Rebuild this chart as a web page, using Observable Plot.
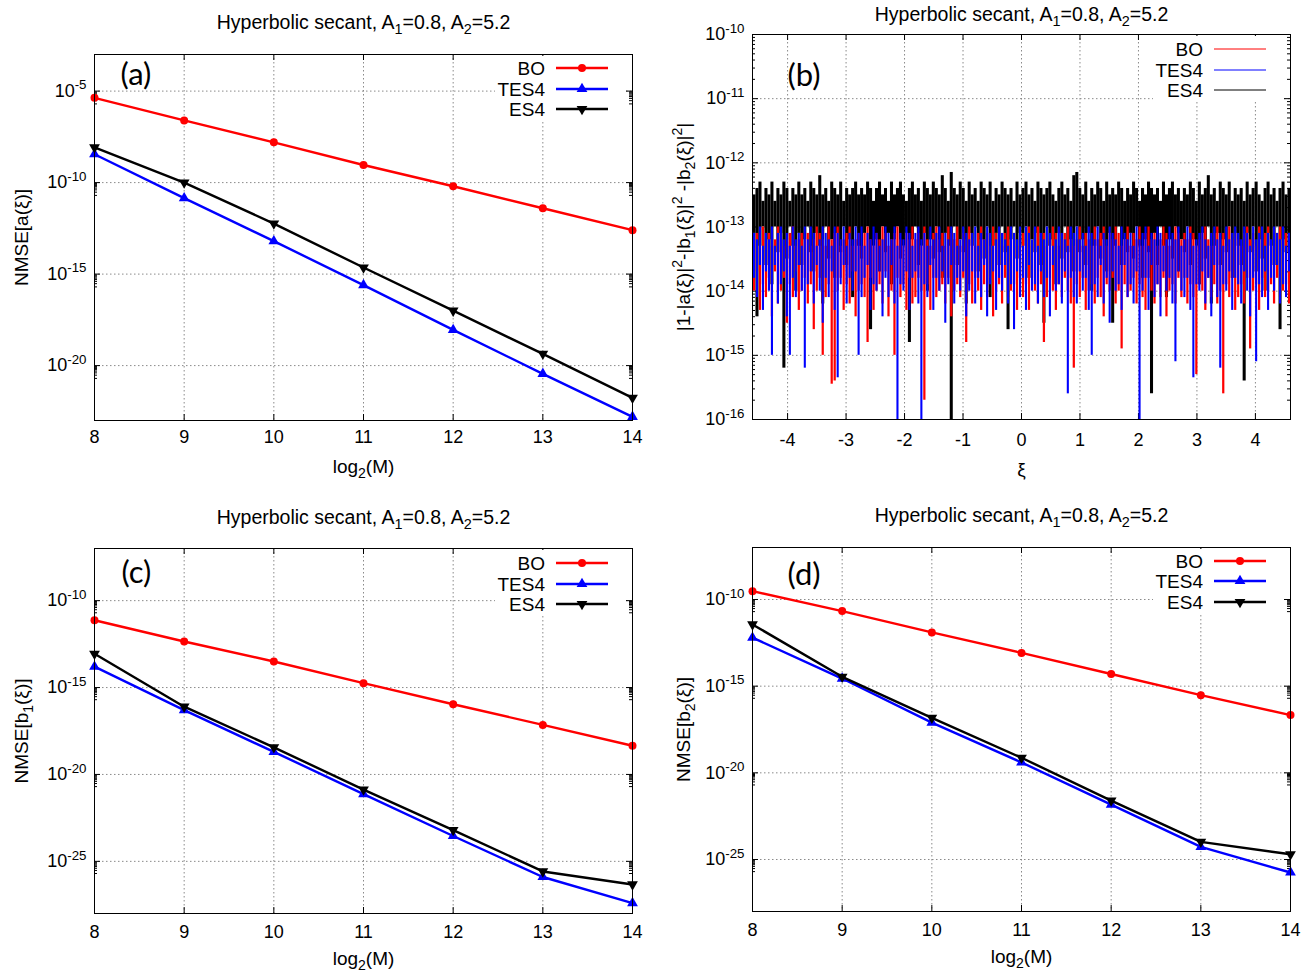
<!DOCTYPE html>
<html>
<head>
<meta charset="utf-8">
<script src="https://cdn.jsdelivr.net/npm/d3@7"></script>
<script src="https://cdn.jsdelivr.net/npm/@observablehq/plot@0.6"></script>
<style>
  html, body { margin: 0; padding: 0; background: #fff; }
  #wrap { position: relative; width: 1302px; height: 973px; background: #fff; overflow: hidden; }
  #wrap svg { position: absolute; }
</style>
</head>
<body>
<div id="wrap"></div>
<script>
// ---------------- DATA ----------------
const log2M = [8, 9, 10, 11, 12, 13, 14];
const seriesNames = ["BO", "TES4", "ES4"];
const seriesColors = ["#ff0000", "#0000ff", "#000000"];
const panelTitle = "Hyperbolic secant, A_{1}=0.8, A_{2}=5.2";

// (a) NMSE[a(xi)], log10 values
const aBO   = [-5.37, -6.6, -7.8, -9.04, -10.2, -11.4, -12.6];
const aTES4 = [-8.45, -10.85, -13.2, -15.6, -18.05, -20.45, -22.8];
const aES4  = [-8.08, -10.0, -12.24, -14.64, -17.0, -19.36, -21.76];

// (c) NMSE[b1(xi)], log10 values
const cBO   = [-11.13, -12.35, -13.5, -14.75, -15.96, -17.15, -18.35];
const cTES4 = [-13.8, -16.3, -18.7, -21.13, -23.54, -25.9, -27.4];
const cES4  = [-13.06, -16.1, -18.44, -20.87, -23.2, -25.58, -26.33];

// (d) NMSE[b2(xi)], log10 values
const dBO   = [-9.52, -10.67, -11.9, -13.08, -14.3, -15.52, -16.67];
const dTES4 = [-12.2, -14.56, -17.1, -19.4, -21.83, -24.27, -25.75];
const dES4  = [-11.44, -14.46, -16.83, -19.13, -21.6, -23.98, -24.7];

const yTicksA  = [1e-5, 1e-10, 1e-15, 1e-20];
const yTicksCD = [1e-10, 1e-15, 1e-20, 1e-25];

// (b) |1-|a|^2-|b1|^2-|b2|^2| versus xi: the dense curve read as its
// upper / lower envelope (log10) in 180 equal xi-bins over xiDomain
const xiDomain = [-4.6, 4.6];
const xiTicks = [-4, -3, -2, -1, 0, 1, 2, 3, 4];
const yTicksB = [1e-10, 1e-11, 1e-12, 1e-13, 1e-14, 1e-15, 1e-16];

const bES4Hi = [
  -12.5,-12.4,-12.3,-12.6,-12.4,-12.5,-12.3,-12.6,-12.4,-12.5,-12.3,-12.4,-12.6,-12.4,-12.5,-12.3,-12.5,-12.4,
  -12.6,-12.3,-12.4,-12.5,-12.2,-12.5,-12.4,-12.6,-12.3,-12.4,-12.5,-12.3,-12.6,-12.4,-12.5,-12.4,-12.3,-12.5,
  -12.4,-12.5,-12.3,-12.4,-12.6,-12.4,-12.3,-12.5,-12.4,-12.6,-12.3,-12.5,-12.4,-12.3,-12.5,-12.6,-12.4,-12.3,
  -12.5,-12.4,-12.6,-12.3,-12.4,-12.5,-12.3,-12.4,-12.5,-12.2,-12.4,-12.6,-12.15,-12.4,-12.5,-12.3,-12.4,-12.6,
  -12.3,-12.5,-12.4,-12.6,-12.3,-12.4,-12.5,-12.3,-12.6,-12.4,-12.5,-12.3,-12.4,-12.5,-12.4,-12.6,-12.3,-12.5,
  -12.4,-12.3,-12.5,-12.4,-12.6,-12.3,-12.4,-12.5,-12.4,-12.3,-12.5,-12.6,-12.4,-12.3,-12.5,-12.4,-12.6,-12.2,
  -12.15,-12.4,-12.5,-12.3,-12.6,-12.4,-12.5,-12.3,-12.4,-12.6,-12.3,-12.5,-12.4,-12.5,-12.3,-12.4,-12.6,-12.4,
  -12.5,-12.3,-12.4,-12.6,-12.4,-12.5,-12.3,-12.4,-12.5,-12.4,-12.6,-12.3,-12.5,-12.4,-12.3,-12.5,-12.4,-12.6,
  -12.4,-12.5,-12.3,-12.4,-12.6,-12.3,-12.5,-12.4,-12.2,-12.5,-12.4,-12.6,-12.3,-12.4,-12.5,-12.3,-12.6,-12.4,
  -12.5,-12.4,-12.6,-12.3,-12.5,-12.4,-12.3,-12.5,-12.6,-12.4,-12.3,-12.5,-12.4,-12.6,-12.4,-12.3,-12.5,-12.4
];
const bES4Lo = [
  -13.1,-14.4,-13.3,-13.0,-13.6,-13.2,-13.9,-13.0,-13.4,-13.1,-15.2,-13.5,-13.0,-13.3,-14.0,-13.1,-13.6,-13.2,
  -13.0,-13.4,-13.7,-13.1,-13.3,-14.2,-13.0,-13.5,-13.2,-13.8,-13.1,-13.4,-13.0,-13.6,-13.2,-14.1,-13.0,-13.3,
  -13.5,-13.1,-13.0,-14.6,-13.3,-13.2,-13.7,-13.0,-13.4,-13.1,-13.9,-13.2,-13.0,-13.5,-13.3,-13.1,-14.8,-13.2,
  -13.0,-13.6,-13.3,-13.1,-14.0,-13.2,-13.5,-13.0,-13.4,-13.8,-13.1,-13.3,-16.0,-13.0,-13.6,-13.2,-13.4,-14.2,
  -13.1,-13.3,-13.0,-13.7,-13.2,-13.5,-13.0,-14.1,-13.3,-13.1,-13.6,-13.0,-13.4,-14.6,-13.2,-13.0,-13.5,-13.1,
  -13.3,-13.0,-13.8,-13.2,-13.4,-13.1,-13.6,-14.5,-13.0,-13.3,-13.2,-13.9,-13.1,-13.5,-13.0,-13.4,-13.2,-13.7,
  -13.0,-13.4,-13.2,-13.6,-13.1,-14.0,-13.3,-13.0,-13.5,-13.2,-13.7,-13.1,-14.5,-13.3,-13.0,-13.6,-13.2,-13.4,
  -13.1,-13.5,-13.0,-13.3,-13.8,-13.2,-13.4,-15.6,-13.1,-13.6,-13.0,-13.3,-14.1,-13.2,-13.5,-13.0,-13.7,-13.2,
  -13.4,-13.0,-13.6,-13.2,-13.3,-13.9,-13.1,-13.5,-13.0,-14.2,-13.3,-13.1,-13.6,-13.2,-13.4,-13.0,-13.8,-13.1,
  -13.3,-13.6,-15.4,-13.1,-13.4,-13.0,-13.7,-13.2,-13.5,-14.0,-13.1,-13.3,-13.6,-13.0,-14.6,-13.2,-13.4,-13.1
];
const bTES4Hi = [
  -13.1,-13.2,-13.0,-13.3,-13.1,-13.2,-13.0,-13.3,-13.1,-13.0,-13.2,-13.1,-13.3,-13.0,-13.2,-13.1,-13.3,-13.0,
  -13.2,-13.0,-13.1,-13.3,-13.2,-13.0,-13.1,-13.2,-13.3,-13.0,-13.1,-13.2,-13.0,-13.3,-13.1,-13.2,-13.0,-13.1,
  -13.0,-13.3,-13.1,-13.2,-13.0,-13.1,-13.3,-13.2,-13.0,-13.1,-13.2,-13.0,-13.3,-13.1,-13.2,-13.0,-13.1,-13.3,
  -13.1,-13.0,-13.2,-13.1,-13.3,-13.0,-13.2,-13.1,-13.0,-13.3,-13.1,-13.2,-13.0,-13.1,-13.3,-13.2,-13.0,-13.1,
  -13.2,-13.1,-13.0,-13.3,-13.1,-13.2,-13.0,-13.1,-13.3,-13.2,-13.0,-13.1,-13.2,-13.3,-13.0,-13.1,-13.2,-13.0,
  -13.3,-13.0,-13.1,-13.2,-13.0,-13.3,-13.1,-13.2,-13.0,-13.1,-13.3,-13.2,-13.0,-13.1,-13.2,-13.3,-13.0,-13.1,
  -13.0,-13.2,-13.1,-13.3,-13.0,-13.1,-13.2,-13.0,-13.3,-13.1,-13.2,-13.0,-13.1,-13.2,-13.3,-13.0,-13.1,-13.2,
  -13.1,-13.3,-13.0,-13.2,-13.1,-13.0,-13.3,-13.1,-13.2,-13.0,-13.1,-13.3,-13.2,-13.0,-13.1,-13.2,-13.0,-13.3,
  -13.2,-13.0,-13.1,-13.3,-13.2,-13.1,-13.0,-13.2,-13.3,-13.1,-13.0,-13.2,-13.1,-13.3,-13.0,-13.2,-13.1,-13.0,
  -13.1,-13.2,-13.0,-13.1,-13.3,-13.0,-13.2,-13.1,-13.0,-13.3,-13.1,-13.2,-13.0,-13.1,-13.2,-13.0,-13.3,-13.1
];
const bTES4Lo = [
  -13.8,-14.1,-13.6,-14.3,-13.7,-14.0,-15.0,-13.6,-14.2,-13.9,-13.7,-14.4,-15.0,-13.8,-14.1,-13.6,-14.0,-15.2,
  -13.9,-13.7,-14.2,-13.6,-14.0,-14.5,-13.8,-14.1,-13.7,-14.3,-15.35,-13.9,-13.6,-14.2,-13.8,-14.0,-13.7,-15.0,
  -14.1,-13.8,-13.6,-14.3,-13.9,-14.0,-13.7,-14.4,-13.8,-14.1,-13.6,-14.2,-16.0,-13.9,-14.0,-13.7,-14.3,-13.8,
  -13.7,-14.2,-16.0,-13.9,-14.1,-13.6,-14.3,-13.8,-14.0,-13.7,-14.5,-13.9,-13.6,-14.2,-13.8,-14.0,-13.7,-14.4,
  -14.0,-13.7,-14.2,-13.8,-14.1,-13.6,-14.4,-13.9,-13.7,-14.3,-13.8,-14.0,-13.6,-14.2,-13.9,-14.6,-13.7,-14.1,
  -13.8,-14.3,-13.6,-14.0,-13.9,-14.2,-13.7,-14.1,-13.8,-14.4,-13.6,-14.0,-13.9,-14.2,-13.7,-15.6,-13.8,-14.1,
  -14.2,-13.7,-14.0,-13.8,-14.3,-15.0,-13.9,-14.1,-13.6,-14.2,-13.8,-14.5,-13.7,-14.0,-13.9,-14.3,-13.6,-14.1,
  -13.9,-14.2,-13.7,-16.0,-14.0,-13.8,-14.3,-13.6,-14.1,-13.9,-14.4,-13.7,-14.0,-13.8,-14.2,-15.1,-13.7,-14.0,
  -14.1,-13.8,-14.3,-15.35,-13.9,-14.0,-13.7,-14.2,-13.8,-14.4,-13.6,-14.1,-15.2,-13.9,-14.0,-13.7,-14.3,-13.8,
  -13.9,-14.2,-13.7,-14.0,-14.4,-13.8,-15.1,-13.9,-14.1,-13.7,-14.3,-13.8,-14.0,-13.6,-14.2,-13.9,-14.1,-13.7
];
const bBOHi = [
  -13.2,-13.1,-13.3,-13.0,-13.2,-13.1,-13.3,-13.2,-13.0,-13.1,-13.3,-13.2,-13.1,-13.0,-13.3,-13.2,-13.1,-13.2,
  -13.1,-13.3,-13.2,-13.0,-13.1,-13.2,-13.3,-13.0,-13.2,-13.1,-13.0,-13.3,-13.2,-13.1,-13.0,-13.3,-13.2,-13.1,
  -13.3,-13.1,-13.0,-13.2,-13.3,-13.1,-13.2,-13.0,-13.1,-13.3,-13.2,-13.1,-13.0,-13.2,-13.3,-13.1,-13.2,-13.0,
  -13.2,-13.1,-13.3,-13.0,-13.2,-13.3,-13.1,-13.0,-13.2,-13.1,-13.3,-13.0,-13.1,-13.2,-13.0,-13.3,-13.1,-13.2,
  -13.0,-13.2,-13.3,-13.1,-13.0,-13.2,-13.1,-13.3,-13.0,-13.1,-13.2,-13.3,-13.1,-13.0,-13.2,-13.1,-13.3,-13.2,
  -13.1,-13.2,-13.0,-13.3,-13.1,-13.0,-13.2,-13.1,-13.3,-13.2,-13.0,-13.1,-13.3,-13.2,-13.1,-13.0,-13.2,-13.3,
  -13.2,-13.0,-13.3,-13.1,-13.2,-13.3,-13.0,-13.2,-13.1,-13.0,-13.3,-13.1,-13.2,-13.0,-13.1,-13.3,-13.2,-13.0,
  -13.3,-13.1,-13.2,-13.0,-13.3,-13.1,-13.0,-13.2,-13.1,-13.3,-13.2,-13.0,-13.1,-13.3,-13.2,-13.0,-13.1,-13.2,
  -13.1,-13.2,-13.0,-13.1,-13.3,-13.2,-13.1,-13.0,-13.2,-13.3,-13.1,-13.0,-13.2,-13.1,-13.3,-13.0,-13.2,-13.1,
  -13.2,-13.3,-13.1,-13.0,-13.2,-13.1,-13.3,-13.0,-13.2,-13.1,-13.0,-13.3,-13.2,-13.1,-13.0,-13.2,-13.1,-13.3
];
const bBOLo = [
  -14.0,-13.7,-14.3,-13.9,-14.1,-13.8,-14.4,-13.7,-14.2,-14.0,-13.8,-14.5,-13.9,-14.1,-13.7,-14.3,-14.0,-13.8,
  -14.2,-13.9,-14.6,-14.0,-13.8,-15.0,-14.1,-13.9,-15.45,-15.4,-14.0,-13.8,-14.3,-13.9,-14.2,-13.7,-14.4,-14.0,
  -13.9,-14.1,-14.8,-13.8,-14.3,-14.0,-13.9,-14.2,-13.7,-14.4,-14.0,-15.0,-13.8,-14.1,-13.9,-14.3,-13.8,-14.2,
  -14.1,-13.8,-14.0,-15.7,-13.9,-14.3,-13.8,-14.1,-14.0,-13.9,-14.2,-13.8,-14.4,-14.0,-13.9,-14.1,-13.8,-14.8,
  -13.9,-14.2,-13.8,-14.0,-14.3,-13.9,-14.1,-13.8,-14.4,-14.0,-13.9,-14.2,-13.8,-14.1,-14.0,-13.9,-14.3,-13.8,
  -14.1,-13.9,-14.3,-13.8,-14.0,-14.2,-13.9,-14.8,-14.1,-13.8,-14.0,-14.3,-13.9,-14.1,-13.8,-14.0,-14.2,-15.2,
  -13.9,-14.1,-13.8,-14.3,-14.0,-13.9,-14.2,-13.8,-14.1,-14.4,-13.9,-14.0,-13.8,-14.2,-14.0,-14.9,-13.9,-14.1,
  -14.0,-13.8,-14.2,-13.9,-14.1,-14.3,-13.8,-14.0,-14.2,-13.9,-14.1,-13.8,-14.4,-14.0,-13.9,-14.2,-13.8,-14.1,
  -13.8,-14.2,-13.9,-14.1,-15.3,-13.9,-14.0,-14.3,-13.8,-14.1,-13.9,-14.2,-14.0,-15.6,-13.9,-14.1,-13.8,-14.3,
  -14.1,-13.9,-14.2,-13.8,-14.9,-14.0,-13.9,-14.3,-13.8,-14.1,-14.0,-13.9,-14.2,-13.8,-14.1,-14.0,-13.9,-14.2
];

// ---------------- HELPERS ----------------
const FONT = "'Liberation Sans', Arial, Helvetica, sans-serif";
const TAGFONT = "Lato, 'Open Sans', sans-serif";
const GRID = {stroke: "#8a8a8a", strokeOpacity: 1, strokeDasharray: "1.5,2.5", strokeWidth: 1};
const pow10Label = d => "10^{" + Math.round(Math.log10(d)) + "}";
const TICKFONT = 18;
const LABELFONT = 19;
const TITLEFONT = 19.5;

function minorTicks(majors, domain, perDecadeAll) {
  const lo = Math.min(...domain), hi = Math.max(...domain);
  const out = [];
  const exps = perDecadeAll
    ? d3.range(Math.round(Math.log10(lo)), Math.round(Math.log10(hi)))
    : majors.map(t => Math.round(Math.log10(t)) - 1);
  for (const e of exps) for (let m = 2; m <= 9; m++) {
    const v = m * Math.pow(10, e);
    if (v > lo && v < hi) out.push(v);
  }
  return out;
}

function richify(svg) {
  d3.select(svg).selectAll("text").each(function () {
    const t = this.textContent;
    if (!/[_^]\{/.test(t)) return;
    const parts = [];
    const re = /([_^])\{([^}]*)\}/g;
    let last = 0, m;
    while ((m = re.exec(t))) {
      if (m.index > last) parts.push({s: t.slice(last, m.index)});
      parts.push({s: m[2], k: m[1]});
      last = re.lastIndex;
    }
    if (last < t.length) parts.push({s: t.slice(last)});
    while (this.firstChild) this.removeChild(this.firstChild);
    let shift = 0;
    for (const p of parts) {
      const ts = document.createElementNS("http://www.w3.org/2000/svg", "tspan");
      ts.textContent = p.s;
      const size = p.k ? 0.74 : 1;
      const target = p.k === "^" ? -0.42 : p.k === "_" ? 0.26 : 0;
      if (p.k) ts.setAttribute("font-size", "74%");
      const d = target - shift;
      if (Math.abs(d) > 1e-9) ts.setAttribute("dy", (d / size).toFixed(3) + "em");
      shift = target;
      this.appendChild(ts);
    }
  });
}

function addLegend(svg, {right, top, rowDy, markers, lineWidth}) {
  const g = d3.select(svg).append("g")
    .attr("font-family", FONT).attr("font-size", LABELFONT).attr("fill", "#000");
  g.append("rect")
    .attr("x", right - 137).attr("y", top + 2)
    .attr("width", 131).attr("height", rowDy[2] + 10)
    .attr("fill", "#fff");
  seriesNames.forEach((name, i) => {
    const y = top + rowDy[i];
    g.append("text").attr("x", right - 87).attr("y", y).attr("dy", "0.36em")
      .attr("text-anchor", "end").text(name);
    g.append("line").attr("x1", right - 76).attr("x2", right - 24)
      .attr("y1", y).attr("y2", y)
      .attr("stroke", seriesColors[i]).attr("stroke-width", lineWidth);
    if (markers) {
      const type = i === 0 ? d3.symbolCircle : d3.symbolTriangle;
      const rot = i === 2 ? " rotate(180)" : "";
      g.append("path")
        .attr("transform", `translate(${right - 50},${y})${rot}`)
        .attr("d", d3.symbol(type, Math.PI * 4 * 4)())
        .attr("fill", seriesColors[i]);
    }
  });
}

function place(svg, left, top) {
  svg.style.left = left + "px";
  svg.style.top = top + "px";
  document.getElementById("wrap").appendChild(svg);
}

function labelMarks(cfg) {
  return [
    Plot.text([panelTitle], {text: d => d, frameAnchor: "top", dy: cfg.titleDy, fontSize: TITLEFONT, textAnchor: "middle", lineAnchor: "middle"}),
    Plot.text([cfg.xLabel], {text: d => d, frameAnchor: "bottom", dy: cfg.xLabelDy, fontSize: LABELFONT, textAnchor: "middle", lineAnchor: "middle"}),
    Plot.text([cfg.yLabel], {text: d => d, frameAnchor: "left", dx: cfg.yLabelDx, rotate: -90, fontSize: LABELFONT, textAnchor: "middle", lineAnchor: "middle"}),
    Plot.text([cfg.tag], {text: d => d, frameAnchor: "top-left", dx: cfg.tagDx, dy: cfg.tagDy, textAnchor: "start", lineAnchor: "middle", fontSize: 31, fontFamily: TAGFONT})
  ];
}

function nmsePanel(cfg) {
  const {box, m, yDomain, yTicks, vals} = cfg;
  const fw = box.w - m.l - m.r, fh = box.h - m.t - m.b;
  const rows = vals.map((arr, k) => arr.map((v, i) => ({x: log2M[i], y: Math.pow(10, v), s: seriesNames[k]})));
  const yMinor = minorTicks(yTicks, yDomain, false);
  const marks = [
    Plot.gridX(log2M.slice(1, -1), GRID),
    Plot.gridY(yTicks, GRID),
    Plot.tickX(log2M, {x: d => d, insetTop: fh - 6, stroke: "#000"}),
    Plot.tickX(log2M, {x: d => d, insetBottom: fh - 6, stroke: "#000"}),
    Plot.tickY(yTicks, {y: d => d, insetRight: fw - 6, stroke: "#000"}),
    Plot.tickY(yTicks, {y: d => d, insetLeft: fw - 6, stroke: "#000"}),
    Plot.tickY(yMinor, {y: d => d, insetRight: fw - 3, stroke: "#000"}),
    Plot.tickY(yMinor, {y: d => d, insetLeft: fw - 3, stroke: "#000"}),
    Plot.axisX(log2M, {tickSize: 0, tickPadding: cfg.xPad, fontSize: TICKFONT, label: null}),
    Plot.axisY(yTicks, {tickSize: 0, tickPadding: 8, fontSize: TICKFONT, tickFormat: pow10Label, label: null}),
  ];
  rows.forEach((r, k) => {
    marks.push(Plot.line(r, {x: "x", y: "y", stroke: seriesColors[k], strokeWidth: 2.4}));
    marks.push(Plot.dot(r, {
      x: "x", y: "y", fill: seriesColors[k], stroke: "none", r: 4,
      symbol: k === 0 ? "circle" : "triangle", rotate: k === 2 ? 180 : 0
    }));
  });
  marks.push(Plot.frame({stroke: "#000", strokeWidth: 1}), ...labelMarks(cfg));
  const svg = Plot.plot({
    width: box.w, height: box.h,
    marginLeft: m.l, marginRight: m.r, marginTop: m.t, marginBottom: m.b,
    style: {fontFamily: FONT, fontSize: TICKFONT + "px", color: "#000", background: "transparent"},
    x: {domain: [8, 14], label: null},
    y: {type: "log", domain: yDomain, label: null},
    marks
  });
  richify(svg);
  addLegend(svg, {right: box.w - m.r, top: m.t, rowDy: cfg.legendDy, markers: true, lineWidth: 2.4});
  place(svg, box.x, box.y);
}

function balancePanel(cfg) {
  const {box, m} = cfg;
  const fw = box.w - m.l - m.r, fh = box.h - m.t - m.b;
  const yDomain = [1e-16, 1e-10];
  const nb = bES4Hi.length;
  const binW = (xiDomain[1] - xiDomain[0]) / nb;
  const pxW = fw / nb;
  const toRows = (hi, lo) => hi.map((v, i) => ({
    xi: xiDomain[0] + (i + 0.5) * binW,
    hi: Math.pow(10, v),
    lo: Math.pow(10, lo[i])
  }));
  const rBO = toRows(bBOHi, bBOLo), rTES4 = toRows(bTES4Hi, bTES4Lo), rES4 = toRows(bES4Hi, bES4Lo);
  const yMinor = minorTicks(yTicksB, yDomain, true);
  const svg = Plot.plot({
    width: box.w, height: box.h,
    marginLeft: m.l, marginRight: m.r, marginTop: m.t, marginBottom: m.b,
    style: {fontFamily: FONT, fontSize: TICKFONT + "px", color: "#000", background: "transparent"},
    x: {domain: xiDomain, label: null},
    y: {type: "log", domain: yDomain, label: null},
    marks: [
      Plot.gridX(xiTicks, GRID),
      Plot.gridY(yTicksB.slice(1, -1), GRID),
      Plot.tickX(xiTicks, {x: d => d, insetTop: fh - 6, stroke: "#000"}),
      Plot.tickX(xiTicks, {x: d => d, insetBottom: fh - 6, stroke: "#000"}),
      Plot.tickY(yTicksB, {y: d => d, insetRight: fw - 6, stroke: "#000"}),
      Plot.tickY(yTicksB, {y: d => d, insetLeft: fw - 6, stroke: "#000"}),
      Plot.tickY(yMinor, {y: d => d, insetRight: fw - 3, stroke: "#000"}),
      Plot.tickY(yMinor, {y: d => d, insetLeft: fw - 3, stroke: "#000"}),
      Plot.axisX(xiTicks, {tickSize: 0, tickPadding: 14, fontSize: TICKFONT, tickFormat: d => String(d), label: null}),
      Plot.axisY(yTicksB, {tickSize: 0, tickPadding: 8, fontSize: TICKFONT, tickFormat: pow10Label, label: null}),
      Plot.ruleX(rES4, {x: "xi", y1: "lo", y2: "hi", stroke: seriesColors[2], strokeWidth: pxW * 1.02}),
      Plot.ruleX(rBO, {x: "xi", y1: "lo", y2: "hi", stroke: seriesColors[0], strokeWidth: pxW * 0.75}),
      Plot.ruleX(rTES4, {x: "xi", y1: "lo", y2: "hi", stroke: seriesColors[1], strokeWidth: pxW * 0.7}),
      Plot.frame({stroke: "#000", strokeWidth: 1}),
      ...labelMarks(cfg)
    ]
  });
  richify(svg);
  addLegend(svg, {right: box.w - m.r, top: m.t, rowDy: [15, 36, 56], markers: false, lineWidth: 1});
  place(svg, box.x, box.y);
}

// ---------------- PANELS ----------------
nmsePanel({
  box: {x: 0, y: 0, w: 651, h: 487}, m: {l: 94, r: 19, t: 54, b: 67},
  yDomain: [1e-23, 1e-3], yTicks: yTicksA, vals: [aBO, aTES4, aES4],
  xLabel: "log_{2}(M)", yLabel: "NMSE[a(ξ)]", tag: "(a)",
  titleDy: -32, xLabelDy: 46, yLabelDx: -73, xPad: 10,
  tagDx: 26, tagDy: 21, legendDy: [14, 35, 55]
});
balancePanel({
  box: {x: 651, y: 0, w: 651, h: 487}, m: {l: 101, r: 12, t: 34, b: 68},
  xLabel: "ξ", yLabel: "|1-|a(ξ)|^{2}-|b_{1}(ξ)|^{2} -|b_{2}(ξ)|^{2}|", tag: "(b)",
  titleDy: -20, xLabelDy: 50, yLabelDx: -69, tagDx: 35, tagDy: 42
});
nmsePanel({
  box: {x: 0, y: 487, w: 651, h: 486}, m: {l: 94, r: 19, t: 61, b: 60},
  yDomain: [1e-28, 1e-7], yTicks: yTicksCD, vals: [cBO, cTES4, cES4],
  xLabel: "log_{2}(M)", yLabel: "NMSE[b_{1}(ξ)]", tag: "(c)",
  titleDy: -31, xLabelDy: 45, yLabelDx: -73, xPad: 12,
  tagDx: 27, tagDy: 25, legendDy: [15, 36, 56]
});
nmsePanel({
  box: {x: 651, y: 487, w: 651, h: 486}, m: {l: 101, r: 12, t: 60, b: 62},
  yDomain: [1e-28, 1e-7], yTicks: yTicksCD, vals: [dBO, dTES4, dES4],
  xLabel: "log_{2}(M)", yLabel: "NMSE[b_{2}(ξ)]", tag: "(d)",
  titleDy: -32, xLabelDy: 45, yLabelDx: -69, xPad: 12,
  tagDx: 35, tagDy: 28, legendDy: [14, 34, 55]
});
</script>
</body>
</html>
